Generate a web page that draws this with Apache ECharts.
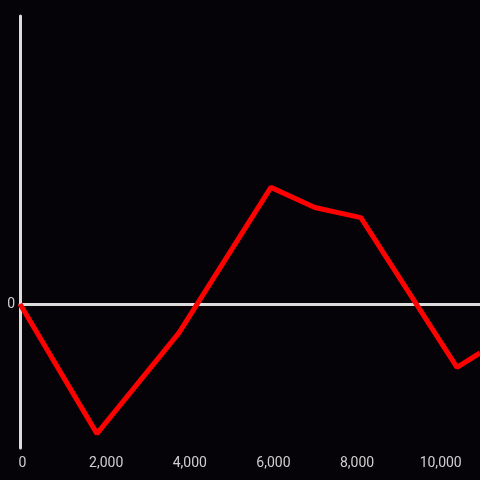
<!DOCTYPE html>
<html>
<head>
<meta charset="utf-8">
<script src="https://cdn.jsdelivr.net/npm/echarts@6/dist/echarts.min.js"></script>
<style>
  html, body { margin: 0; padding: 0; background: #050308; }
  #chart { width: 480px; height: 480px; }
</style>
</head>
<body>
<div id="chart"></div>
<script>
// data
const xValues = [0, 1840, 3800, 6000, 7050, 8150, 10450, 11000];
const yValues = [0, -0.9, -0.2, 0.81, 0.67, 0.6, -0.44, -0.34];
const xTicks = [0, 2000, 4000, 6000, 8000, 10000];

const myChart = echarts.init(document.getElementById('chart'));

const axisColor = '#dcdcdc';
const labelColor = '#cfcfcf';

myChart.setOption({
  backgroundColor: '#050308',
  animation: false,
  grid: {
    left: 20,
    right: 0,
    top: 16,
    bottom: 32,
    containLabel: false,
  },
  xAxis: [
    {
      // zero line
      type: 'value',
      min: 0,
      max: 11000,
      interval: 2000,
      axisLine: { show: true, onZero: true, lineStyle: { color: axisColor, width: 3 } },
      axisTick: { show: false },
      axisLabel: { show: false },
      splitLine: { show: false },
    },
    {
      // labels at bottom
      type: 'value',
      position: 'bottom',
      min: 0,
      max: 11000,
      interval: 2000,
      axisLine: { show: false, onZero: false },
      axisTick: { show: false },
      splitLine: { show: false },
      axisLabel: {
        color: labelColor,
        fontSize: 14,
        fontFamily: 'Roboto',
        margin: 8,
        padding: [0, 0, 0, 5],
        showMaxLabel: false,
        formatter: function (v) {
          return xTicks.indexOf(v) >= 0 ? v.toLocaleString('en-US') : '';
        },
      },
    },
  ],
  yAxis: {
    type: 'value',
    min: -1,
    max: 2,
    interval: 1,
    axisLine: { show: true, lineStyle: { color: axisColor, width: 3 } },
    axisTick: { show: false },
    splitLine: { show: false },
    axisLabel: {
      color: labelColor,
      fontSize: 14,
      fontFamily: 'Roboto',
      margin: 5,
      padding: [4, 0, 0, 0],
      formatter: function (v) {
        return v === 0 ? '0' : '';
      },
    },
  },
  series: [
    {
      type: 'line',
      xAxisIndex: 0,
      data: xValues.map((x, i) => [x, yValues[i]]),
      showSymbol: false,
      lineStyle: { color: '#ff0000', width: 5 },
      clip: true,
    },
  ],
});
</script>
</body>
</html>
